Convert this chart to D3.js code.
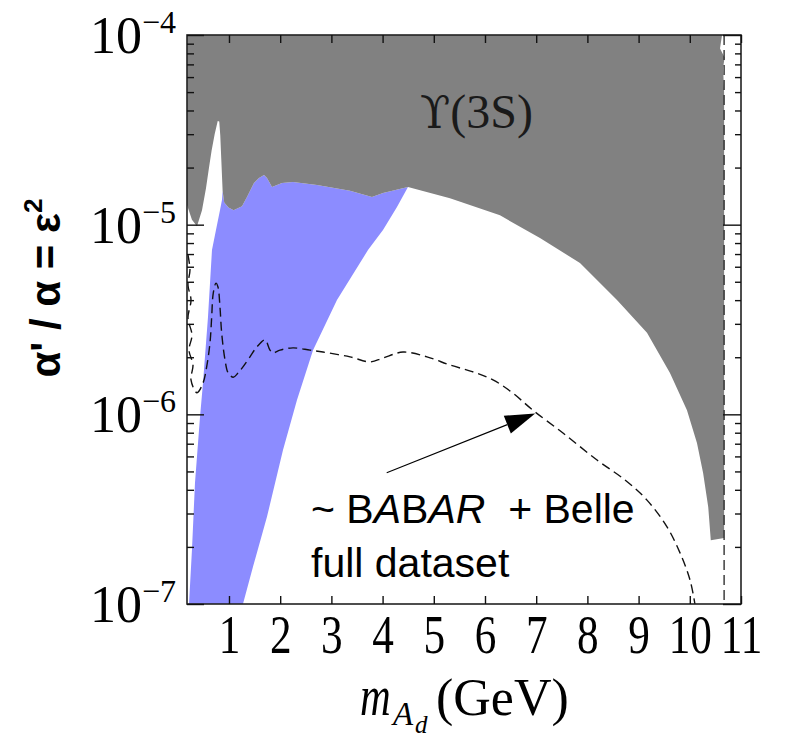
<!DOCTYPE html>
<html>
<head>
<meta charset="utf-8">
<script src="https://cdn.jsdelivr.net/npm/d3@7"></script>
<style>
  body { margin: 0; background: #fff; }
  svg { display: block; }
  .serif { font-family: "Liberation Serif", "Times New Roman", serif; }
  .sans { font-family: "Liberation Sans", Arial, sans-serif; }
</style>
</head>
<body>
<svg id="chart" width="795" height="737"></svg>
<script>
// Dark photon parameter space: mass m_Ad (GeV) against alpha'/alpha = eps^2

const massTicks = [1, 2, 3, 4, 5, 6, 7, 8, 9, 10, 11];
const epsDecades = [1e-7, 1e-6, 1e-5, 1e-4];
const decadeExponents = ["\u22127", "\u22126", "\u22125", "\u22124"];

// Lower edge of the region excluded by the Υ(3S) search, [mass, eps^2], left to right
const upsilonEdge = [
  [0.18, 1.27e-5], [0.277, 1.06e-5], [0.375, 9.8e-6], [0.473, 1.19e-5], [0.55, 1.55e-5],
  [0.61, 2.0e-5], [0.66, 2.45e-5], [0.72, 3.0e-5], [0.78, 3.52e-5],
  [0.81, 3.5e-5], [0.83, 2.95e-5], [0.85, 2.2e-5], [0.876, 1.5e-5], [0.907, 1.31e-5],
  [0.99, 1.23e-5], [1.09, 1.19e-5], [1.254, 1.25e-5], [1.352, 1.40e-5], [1.488, 1.66e-5],
  [1.586, 1.76e-5], [1.684, 1.83e-5], [1.742, 1.76e-5], [1.840, 1.58e-5], [2.035, 1.66e-5],
  [2.25, 1.68e-5], [2.719, 1.62e-5], [3.363, 1.51e-5], [3.793, 1.40e-5], [4.008, 1.47e-5],
  [4.496, 1.58e-5], [5.316, 1.38e-5], [6.293, 1.12e-5], [7.074, 8.5e-6], [7.855, 6.28e-6],
  [8.578, 4.01e-6], [9.164, 2.69e-6], [9.613, 1.65e-6], [9.945, 1.05e-6], [10.14, 7.06e-7],
  [10.26, 4.91e-7], [10.36, 3.25e-7], [10.41, 2.17e-7], [10.67, 2.23e-7]
];

// Right-hand edge of the excluded region, top to bottom
const upsilonRightEdge = [
  [10.63, 1e-4], [10.59, 8.5e-5], [10.68, 7.6e-5], [10.65, 6.7e-5], [10.67, 5e-5], [10.67, 2.23e-7]
];

// Blue allowed band: left edge (bottom to top) and right edge (top to bottom)
const bandLeft = [
  [0.219, 1e-7], [0.277, 1.93e-7], [0.336, 4.35e-7], [0.434, 9.69e-7], [0.492, 1.46e-6],
  [0.590, 3.26e-6], [0.668, 7.35e-6], [0.746, 9.37e-6], [0.824, 1.19e-5], [0.863, 1.35e-5]
];
const bandRight = [
  [4.496, 1.58e-5], [4.281, 1.24e-5], [4.008, 9.37e-6], [3.715, 7.35e-6], [3.109, 4.01e-6],
  [2.641, 2.18e-6], [2.328, 1.19e-6], [2.055, 6.49e-7], [1.742, 2.88e-7], [1.469, 1.57e-7],
  [1.273, 1e-7]
];

// Projected reach with the full B-factory datasets (dashed)
const projection = [
  [0.199, 6.92e-6], [0.238, 5.77e-6], [0.199, 4.81e-6], [0.258, 4.01e-6], [0.199, 3.22e-6],
  [0.277, 2.62e-6], [0.219, 2.18e-6], [0.297, 1.82e-6], [0.258, 1.52e-6], [0.375, 1.30e-6],
  [0.492, 1.46e-6], [0.564, 1.78e-6], [0.629, 2.38e-6], [0.662, 3.26e-6], [0.693, 4.36e-6],
  [0.746, 4.92e-6], [0.785, 4.69e-6], [0.824, 3.68e-6], [0.857, 2.69e-6], [0.922, 1.94e-6],
  [0.986, 1.65e-6], [1.084, 1.57e-6], [1.176, 1.65e-6], [1.273, 1.78e-6], [1.410, 2.01e-6],
  [1.541, 2.26e-6], [1.703, 2.47e-6], [1.801, 2.18e-6], [1.859, 2.11e-6], [1.996, 2.18e-6],
  [2.25, 2.24e-6], [2.582, 2.18e-6], [2.836, 2.13e-6], [3.363, 2.01e-6], [3.754, 1.89e-6],
  [4.008, 1.98e-6], [4.398, 2.13e-6], [4.867, 2.01e-6], [5.316, 1.82e-6], [5.75, 1.68e-6],
  [6.156, 1.52e-6], [6.55, 1.29e-6], [6.938, 1.05e-6], [7.523, 7.97e-7], [8.188, 5.74e-7],
  [8.734, 4.51e-7], [9.164, 3.53e-7], [9.555, 2.55e-7], [9.809, 1.86e-7], [10.004, 1.34e-7],
  [10.1, 1e-7]
];

// Kinematic limit line near the Υ(3S) mass
const kinematicLimit = 10.67;

// Annotation arrow pointing at the dashed curve
const arrowFrom = [4.08, 4.92e-7];
const arrowTo = [6.98, 1.01e-6];

const svg = d3.select("#chart");
const plotLeft = 187, plotRight = 741, plotTop = 35, plotBottom = 604;

const x = d3.scaleLinear().domain([0.18, 11]).range([plotLeft, plotRight]);
const y = d3.scaleLog().domain([1e-7, 1e-4]).range([plotBottom, plotTop]);

const line = d3.line().x(d => x(d[0])).y(d => y(d[1]));
const smoothLine = d3.line().x(d => x(d[0])).y(d => y(d[1])).curve(d3.curveCatmullRom.alpha(0.5));

svg.append("clipPath").attr("id", "plotClip")
  .append("rect").attr("x", plotLeft).attr("y", plotTop)
  .attr("width", plotRight - plotLeft).attr("height", plotBottom - plotTop);

const plot = svg.append("g").attr("clip-path", "url(#plotClip)");

// Blue band, topped by the excluded-region edge
const bandTop = upsilonEdge.filter(d => d[0] >= 0.87 && d[0] <= 4.5);
plot.append("path")
  .attr("d", line([...bandLeft, ...bandTop, ...bandRight]) + "Z")
  .attr("fill", "#8c8cff");

// Grey excluded region
plot.append("path")
  .attr("d", line([[0.18, 1e-4], ...upsilonRightEdge, ...upsilonEdge.slice().reverse()]) + "Z")
  .attr("fill", "#818181");

// Dashed projected sensitivity
plot.append("path")
  .attr("d", smoothLine(projection))
  .attr("fill", "none")
  .attr("stroke", "#111")
  .attr("stroke-width", 1.4)
  .attr("stroke-dasharray", "9,5");

plot.append("line")
  .attr("x1", x(kinematicLimit)).attr("x2", x(kinematicLimit))
  .attr("y1", y(1e-4)).attr("y2", y(1e-7))
  .attr("stroke", "#222").attr("stroke-width", 1.3)
  .attr("stroke-dasharray", "10,5");

// Arrow
{
  const x0 = x(arrowFrom[0]), y0 = y(arrowFrom[1]);
  const x1 = x(arrowTo[0]), y1 = y(arrowTo[1]);
  const len = Math.hypot(x1 - x0, y1 - y0);
  const ux = (x1 - x0) / len, uy = (y1 - y0) / len;
  const headLen = 30, halfW = 9.5;
  const bx = x1 - ux * headLen, by = y1 - uy * headLen;
  svg.append("line")
    .attr("x1", x0).attr("y1", y0).attr("x2", bx).attr("y2", by)
    .attr("stroke", "#000").attr("stroke-width", 1.1);
  svg.append("path")
    .attr("d", `M${x1},${y1}L${bx - uy * halfW},${by + ux * halfW}L${bx + uy * halfW},${by - ux * halfW}Z`)
    .attr("fill", "#000");
}

// Region label
const reg = svg.append("text")
  .attr("x", 420).attr("y", 128).attr("fill", "#1a1a1a");
reg.append("tspan")
  .attr("font-family", "'DejaVu Serif', 'Liberation Serif', serif")
  .attr("font-size", 44).text("\u03D2");
reg.append("tspan")
  .attr("font-family", "'Liberation Serif', serif")
  .attr("font-size", 48).text("(3S)");

// Annotation text
const ann = svg.append("text").attr("class", "sans")
  .attr("x", 311).attr("y", 523).attr("font-size", 41)
  .style("white-space", "pre");
ann.append("tspan").text("~ B");
ann.append("tspan").attr("font-style", "italic").text("A");
ann.append("tspan").text("B");
ann.append("tspan").attr("font-style", "italic").text("AR");
ann.append("tspan").text("  + Belle");

svg.append("text").attr("class", "sans")
  .attr("x", 311).attr("y", 577).attr("font-size", 41)
  .text("full dataset");

// Frame
svg.append("rect")
  .attr("x", plotLeft).attr("y", plotTop)
  .attr("width", plotRight - plotLeft).attr("height", plotBottom - plotTop)
  .attr("fill", "none").attr("stroke", "#222").attr("stroke-width", 1.6);

// Minor decade values for log ticks
const minorTicks = [];
for (let e = -7; e < -4; e++) for (let k = 2; k <= 9; k++) minorTicks.push(k * Math.pow(10, e));

function styleAxis(g) {
  g.select(".domain").remove();
  g.selectAll(".tick line").attr("stroke", "#111").attr("stroke-width", 1.4);
}

svg.append("g").attr("transform", `translate(${plotLeft},0)`)
  .call(d3.axisLeft(y).tickValues(epsDecades).tickSize(-17).tickFormat(""))
  .call(styleAxis);
svg.append("g").attr("transform", `translate(${plotLeft},0)`)
  .call(d3.axisLeft(y).tickValues(minorTicks).tickSize(-7).tickFormat(""))
  .call(styleAxis);
svg.append("g").attr("transform", `translate(${plotRight},0)`)
  .call(d3.axisRight(y).tickValues(epsDecades).tickSize(-18).tickFormat(""))
  .call(styleAxis);
svg.append("g").attr("transform", `translate(${plotRight},0)`)
  .call(d3.axisRight(y).tickValues(minorTicks).tickSize(-6).tickFormat(""))
  .call(styleAxis);
svg.append("g").attr("transform", `translate(0,${plotTop})`)
  .call(d3.axisTop(x).tickValues(massTicks).tickSize(-8).tickFormat(""))
  .call(styleAxis);

const xAxis = svg.append("g").attr("transform", `translate(0,${plotBottom})`)
  .call(d3.axisBottom(x).tickValues(massTicks).tickSize(-8).tickFormat(d3.format("d")))
  .call(styleAxis);
xAxis.selectAll(".tick text")
  .attr("class", "serif")
  .attr("y", 49).attr("dy", null)
  .attr("font-size", 54).attr("fill", "#000")
  .attr("transform", "scale(0.8,1)");

// Y decade labels: 10 with superscript exponent
epsDecades.forEach((v, i) => {
  const t = svg.append("text").attr("class", "serif")
    .attr("x", 176).attr("y", y(v) + 18)
    .attr("text-anchor", "end").attr("font-size", 52).attr("fill", "#000");
  t.append("tspan").text("10");
  t.append("tspan").attr("font-size", 32).attr("dy", -20).text(decadeExponents[i]);
});

// Axis titles
const xt = svg.append("g").attr("class", "serif").attr("fill", "#000");
xt.append("text").attr("transform", "translate(360,715) scale(0.76,1)")
  .attr("font-size", 56).attr("font-style", "italic").text("m");
xt.append("text").attr("x", 393).attr("y", 725)
  .attr("font-size", 33).attr("font-style", "italic").text("A");
xt.append("text").attr("x", 415).attr("y", 733)
  .attr("font-size", 25).attr("font-style", "italic").text("d");
xt.append("text").attr("x", 436).attr("y", 715)
  .attr("font-size", 52).text("(GeV)");

const yt = svg.append("text").attr("class", "sans")
  .attr("transform", "translate(60,288) rotate(-90)")
  .attr("text-anchor", "middle").attr("font-size", 42).attr("font-weight", "bold");
yt.append("tspan").text("\u03B1' / \u03B1 = \u03B5");
yt.append("tspan").attr("font-size", 26).attr("dy", -18).text("2");
</script>
</body>
</html>
